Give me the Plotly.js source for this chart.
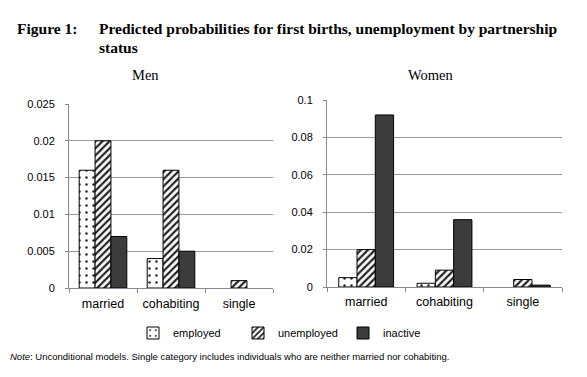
<!DOCTYPE html>
<html>
<head>
<meta charset="utf-8">
<script src="https://cdn.plot.ly/plotly-3.0.1.min.js"></script>
<style>html,body{margin:0;padding:0;background:#fff;}#chart{width:587px;height:377px;}</style>
</head>
<body>
<div id="chart"></div>
<script>
const categories = ["married", "cohabiting", "single"];
const seriesNames = ["employed", "unemployed", "inactive"];
const menEmployed = [0.016, 0.004, 0];
const menUnemployed = [0.020, 0.016, 0.001];
const menInactive = [0.007, 0.005, 0];
const womenEmployed = [0.005, 0.002, 0];
const womenUnemployed = [0.020, 0.009, 0.004];
const womenInactive = [0.092, 0.036, 0.001];

const W = 587, H = 377;
const px = x => x / W;
const py = y => 1 - y / H;

const styles = [
  {color: "white", pattern: {shape: ".", fgcolor: "#222", bgcolor: "white", size: 7, solidity: 0.1}},
  {color: "white", pattern: {shape: "/", fgcolor: "#222", bgcolor: "white", size: 5, solidity: 0.45}},
  {color: "#3c3c3c"}
];

function mk(vals, i, xa, ya, show) {
  const m = Object.assign({}, styles[i], {line: {color: "black", width: vals.map(v => v > 0 ? 1 : 0)}});
  return {
    type: "bar", x: categories, y: vals, name: seriesNames[i],
    xaxis: xa, yaxis: ya, marker: m, showlegend: show,
    legendgroup: seriesNames[i], hoverinfo: "skip"
  };
}

const data = [
  mk(menEmployed, 0, "x", "y", true),
  mk(menUnemployed, 1, "x", "y", true),
  mk(menInactive, 2, "x", "y", true),
  mk(womenEmployed, 0, "x2", "y2", false),
  mk(womenUnemployed, 1, "x2", "y2", false),
  mk(womenInactive, 2, "x2", "y2", false)
];

const sans = "Liberation Sans, Arial, sans-serif";
const yFont = {family: sans, size: 11, color: "#000"};
const xFont = {family: sans, size: 12.5, color: "#000"};
const xBase = {type: "category", showline: true, linecolor: "#888", linewidth: 1, ticks: "outside", tickson: "boundaries", ticklen: 4, tickcolor: "#888", tickfont: xFont, showgrid: false, fixedrange: true};
const yBase = {showline: true, linecolor: "#888", linewidth: 1, ticks: "outside", ticklen: 3, tickcolor: "#888", gridcolor: "#999", gridwidth: 1, tickfont: yFont, zeroline: false, fixedrange: true, ticklabelstandoff: 8};

const serif = "Liberation Serif, Times New Roman, serif";
const layout = {
  width: W, height: H,
  margin: {l: 0, r: 0, t: 0, b: 0},
  paper_bgcolor: "white", plot_bgcolor: "white",
  barmode: "group", bargap: 0.3, bargroupgap: 0,
  xaxis: Object.assign({}, xBase, {domain: [px(69), px(273)], anchor: "y", ticklabelstandoff: 4}),
  yaxis: Object.assign({}, yBase, {domain: [py(288), py(104)], range: [0, 0.025], dtick: 0.005, anchor: "x"}),
  xaxis2: Object.assign({}, xBase, {domain: [px(327), px(562)], anchor: "y2", ticklabelstandoff: 3}),
  yaxis2: Object.assign({}, yBase, {domain: [py(287), py(100)], range: [0, 0.1], dtick: 0.02, anchor: "x2"}),
  showlegend: true,
  legend: {orientation: "h", x: px(133), y: py(333), xanchor: "left", yanchor: "middle",
    font: {family: sans, size: 11, color: "#000"},
    itemwidth: 30, entrywidth: 60, traceorder: "normal"},
  annotations: [
    {text: "<b>Figure 1:</b>", x: px(15), y: py(28), xref: "paper", yref: "paper", xanchor: "left", yanchor: "middle", showarrow: false, font: {family: serif, size: 15.5, color: "#000"}},
    {text: "<b>Predicted probabilities for first births, unemployment by partnership</b>", x: px(97), y: py(28), xref: "paper", yref: "paper", xanchor: "left", yanchor: "middle", showarrow: false, font: {family: serif, size: 15.5, color: "#000"}},
    {text: "<b>status</b>", x: px(97), y: py(47), xref: "paper", yref: "paper", xanchor: "left", yanchor: "middle", showarrow: false, font: {family: serif, size: 15.5, color: "#000"}},
    {text: "Men", x: px(145), y: py(75), xref: "paper", yref: "paper", xanchor: "center", yanchor: "middle", showarrow: false, font: {family: serif, size: 14.5, color: "#000"}},
    {text: "Women", x: px(430), y: py(75), xref: "paper", yref: "paper", xanchor: "center", yanchor: "middle", showarrow: false, font: {family: serif, size: 14.5, color: "#000"}},
    {text: "<i>Note</i>: Unconditional models. Single category includes individuals who are neither married nor cohabiting.", x: px(8), y: py(356), xref: "paper", yref: "paper", xanchor: "left", yanchor: "middle", showarrow: false, font: {family: sans, size: 9.5, color: "#000"}}
  ]
};

Plotly.newPlot("chart", data, layout, {staticPlot: true, displayModeBar: false});
</script>
</body>
</html>
